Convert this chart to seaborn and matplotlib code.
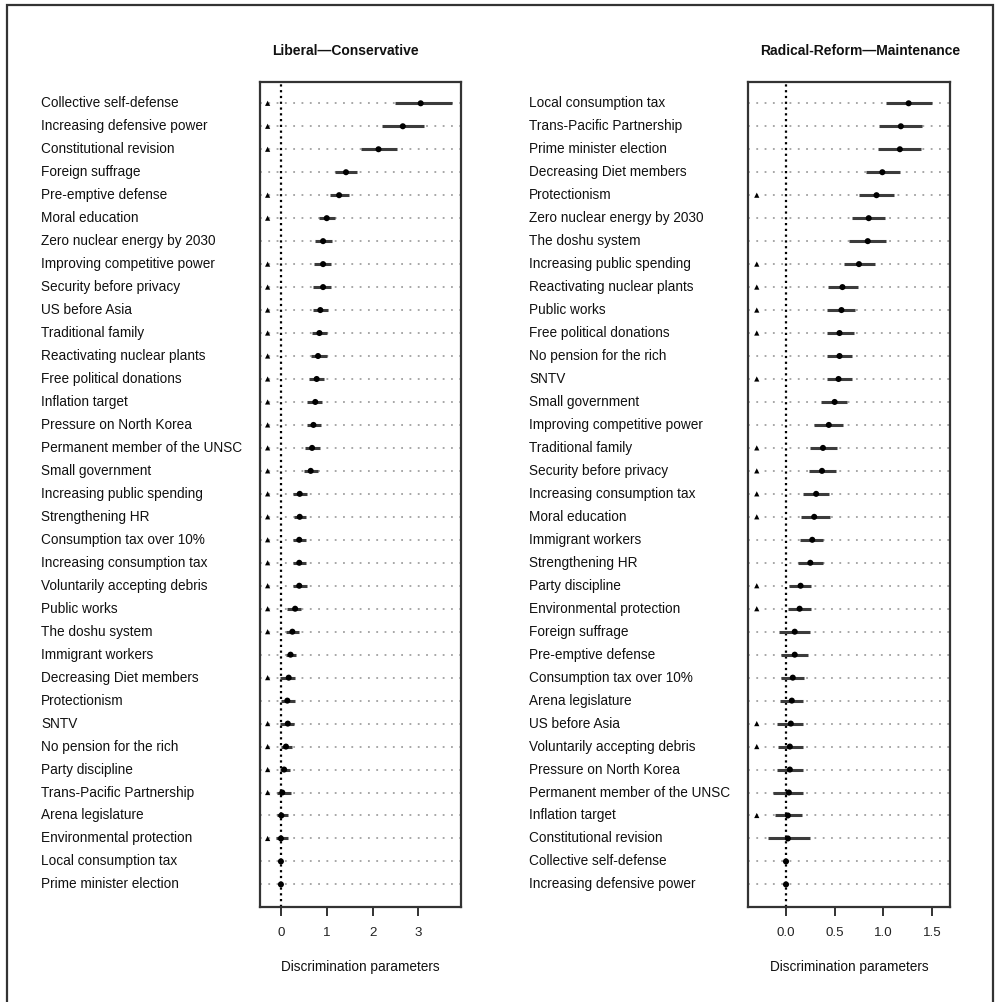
import matplotlib
matplotlib.use("Agg")
import matplotlib.pyplot as plt
import matplotlib.transforms as mtransforms
from matplotlib.patches import Rectangle
import numpy as np
import pandas as pd
import seaborn as sns

LEFT_LABELS = [
    "Collective self-defense", "Increasing defensive power", "Constitutional revision",
    "Foreign suffrage", "Pre-emptive defense", "Moral education",
    "Zero nuclear energy by 2030", "Improving competitive power", "Security before privacy",
    "US before Asia", "Traditional family", "Reactivating nuclear plants",
    "Free political donations", "Inflation target", "Pressure on North Korea",
    "Permanent member of the UNSC", "Small government", "Increasing public spending",
    "Strengthening HR", "Consumption tax over 10%", "Increasing consumption tax",
    "Voluntarily accepting debris", "Public works", "The doshu system",
    "Immigrant workers", "Decreasing Diet members", "Protectionism", "SNTV",
    "No pension for the rich", "Party discipline", "Trans-Pacific Partnership",
    "Arena legislature", "Environmental protection", "Local consumption tax",
    "Prime minister election",
]
LEFT_EST = [3.05, 2.66, 2.13, 1.42, 1.27, 1.00, 0.92, 0.92, 0.92, 0.86, 0.84, 0.81,
            0.78, 0.75, 0.71, 0.68, 0.65, 0.41, 0.41, 0.40, 0.40, 0.40, 0.31, 0.25,
            0.21, 0.17, 0.14, 0.15, 0.11, 0.07, 0.03, 0.01, 0.00, 0.00, 0.00]
LEFT_LO = [2.49, 2.20, 1.75, 1.18, 1.07, 0.83, 0.74, 0.72, 0.71, 0.71, 0.68, 0.65,
           0.62, 0.58, 0.56, 0.52, 0.50, 0.27, 0.28, 0.27, 0.27, 0.27, 0.14, 0.11,
           0.11, -0.01, 0.01, -0.01, 0.01, -0.01, -0.08, -0.08, -0.10, -0.03, -0.03]
LEFT_HI = [3.73, 3.13, 2.53, 1.67, 1.48, 1.19, 1.12, 1.10, 1.09, 1.03, 1.01, 1.00,
           0.94, 0.90, 0.87, 0.85, 0.82, 0.57, 0.55, 0.54, 0.54, 0.57, 0.44, 0.40,
           0.34, 0.31, 0.30, 0.29, 0.24, 0.19, 0.21, 0.15, 0.15, 0.03, 0.03]
LEFT_FLAG = [1, 1, 1, 0, 1, 1, 0, 1, 1, 1, 1, 1, 1, 1, 1, 1, 1, 1, 1, 1, 1, 1, 1, 1,
             0, 1, 0, 1, 1, 1, 1, 0, 1, 0, 0]

RIGHT_LABELS = [
    "Local consumption tax", "Trans-Pacific Partnership", "Prime minister election",
    "Decreasing Diet members", "Protectionism", "Zero nuclear energy by 2030",
    "The doshu system", "Increasing public spending", "Reactivating nuclear plants",
    "Public works", "Free political donations", "No pension for the rich", "SNTV",
    "Small government", "Improving competitive power", "Traditional family",
    "Security before privacy", "Increasing consumption tax", "Moral education",
    "Immigrant workers", "Strengthening HR", "Party discipline",
    "Environmental protection", "Foreign suffrage", "Pre-emptive defense",
    "Consumption tax over 10%", "Arena legislature", "US before Asia",
    "Voluntarily accepting debris", "Pressure on North Korea",
    "Permanent member of the UNSC", "Inflation target", "Constitutional revision",
    "Collective self-defense", "Increasing defensive power",
]
RIGHT_EST = [1.26, 1.18, 1.17, 0.99, 0.93, 0.85, 0.84, 0.75, 0.58, 0.57, 0.55, 0.55,
             0.54, 0.50, 0.44, 0.38, 0.37, 0.31, 0.29, 0.27, 0.25, 0.15, 0.14, 0.09,
             0.09, 0.07, 0.06, 0.05, 0.04, 0.04, 0.03, 0.02, 0.02, 0.00, 0.00]
RIGHT_LO = [1.03, 0.96, 0.95, 0.82, 0.75, 0.68, 0.65, 0.60, 0.43, 0.42, 0.42, 0.42,
            0.42, 0.36, 0.29, 0.25, 0.24, 0.18, 0.15, 0.14, 0.12, 0.03, 0.02, -0.07,
            -0.05, -0.05, -0.06, -0.09, -0.08, -0.09, -0.13, -0.11, -0.18, -0.02, -0.02]
RIGHT_HI = [1.50, 1.40, 1.39, 1.17, 1.11, 1.02, 1.03, 0.91, 0.74, 0.71, 0.70, 0.68,
            0.68, 0.63, 0.59, 0.52, 0.51, 0.44, 0.45, 0.38, 0.38, 0.26, 0.26, 0.25,
            0.23, 0.19, 0.18, 0.17, 0.17, 0.17, 0.17, 0.16, 0.25, 0.02, 0.02]
RIGHT_FLAG = [0, 0, 0, 0, 1, 0, 0, 1, 1, 1, 1, 0, 1, 0, 0, 1, 1, 1, 1, 0, 0, 1, 1, 0,
              0, 0, 0, 1, 1, 0, 0, 1, 0, 0, 0]

LEFT_TICKS = [0, 1, 2, 3]
LEFT_TICKLABELS = ["0", "1", "2", "3"]
RIGHT_TICKS = [0.0, 0.5, 1.0, 1.5]
RIGHT_TICKLABELS = ["0.0", "0.5", "1.0", "1.5"]

sns.set_theme(style="white")
plt.rcParams["font.family"] = ["Liberation Sans", "DejaVu Sans"]


def draw_panel(fig, ax, labels, est, lo, hi, flag, xlim, tri_x, ticks, ticklabels, label_x):
    df = pd.DataFrame({"label": labels, "est": est, "lo": lo, "hi": hi, "flag": flag})
    df["row"] = np.arange(len(df))
    ax.set_xlim(*xlim)
    ax.set_ylim(34.97, -0.94)
    # gray dotted guide line per item
    ax.hlines(df["row"], xlim[0], xlim[1], color="#a0a0a0", lw=1.3,
              linestyles=[(0, (1.0, 3.6))], zorder=1)
    ax.axvline(0, color="black", lw=1.6, ls=(0, (1, 1.6)), zorder=2)
    ax.hlines(df["row"], df["lo"], df["hi"], color="#3c3c3c", lw=2.2, zorder=3)
    sns.scatterplot(data=df, x="est", y="row", ax=ax, color="black", s=19,
                    edgecolor="none", zorder=4, legend=False)
    tri = df.loc[df["flag"] == 1]
    sns.scatterplot(x=np.full(len(tri), tri_x), y=tri["row"], ax=ax, marker="^",
                    color="black", s=14, edgecolor="none", zorder=4, legend=False)
    trans = mtransforms.blended_transform_factory(fig.transFigure, ax.transData)
    for r, lab in zip(df["row"], df["label"]):
        ax.text(label_x, r, lab, transform=trans, ha="left", va="center",
                fontsize=9.8, color="#111111")
    ax.set_yticks([])
    ax.set_xticks(ticks)
    ax.set_xticklabels(ticklabels, fontsize=9.6, color="#222222")
    ax.tick_params(axis="x", bottom=True, length=6.5, width=1.3, pad=8, color="#222222")
    ax.set_xlabel("Discrimination parameters", fontsize=9.8, labelpad=15, color="#111111")
    ax.set_ylabel("")
    for sp in ax.spines.values():
        sp.set_visible(True)
        sp.set_color("#333333")
        sp.set_linewidth(1.6)


fig = plt.figure(figsize=(9.99, 10.02), dpi=100)
ax_l = fig.add_axes([260.3 / 999, 95.3 / 1002, 200.7 / 999, 825.0 / 1002])
ax_r = fig.add_axes([748.0 / 999, 95.3 / 1002, 202.0 / 999, 825.0 / 1002])

draw_panel(fig, ax_l, LEFT_LABELS, LEFT_EST, LEFT_LO, LEFT_HI, LEFT_FLAG,
           (-0.45, 3.93), -0.29, LEFT_TICKS, LEFT_TICKLABELS, 41 / 999)
draw_panel(fig, ax_r, RIGHT_LABELS, RIGHT_EST, RIGHT_LO, RIGHT_HI, RIGHT_FLAG,
           (-0.39, 1.685), -0.30, RIGHT_TICKS, RIGHT_TICKLABELS, 529 / 999)

fig.text(345 / 999, 1 - 51 / 1002, "Liberal\u2014Conservative", ha="center", va="center",
         fontsize=10, fontweight="bold", color="#111111")
fig.text(860 / 999, 1 - 51 / 1002, "Radical-Reform\u2014Maintenance", ha="center", va="center",
         fontsize=10, fontweight="bold", color="#111111")

fig.patches.append(Rectangle((7 / 999, -0.02), 986 / 999, 1.02 - 5 / 1002,
                             transform=fig.transFigure, fill=False,
                             edgecolor="#333333", lw=1.6))

fig.savefig("out.png", dpi=100)
